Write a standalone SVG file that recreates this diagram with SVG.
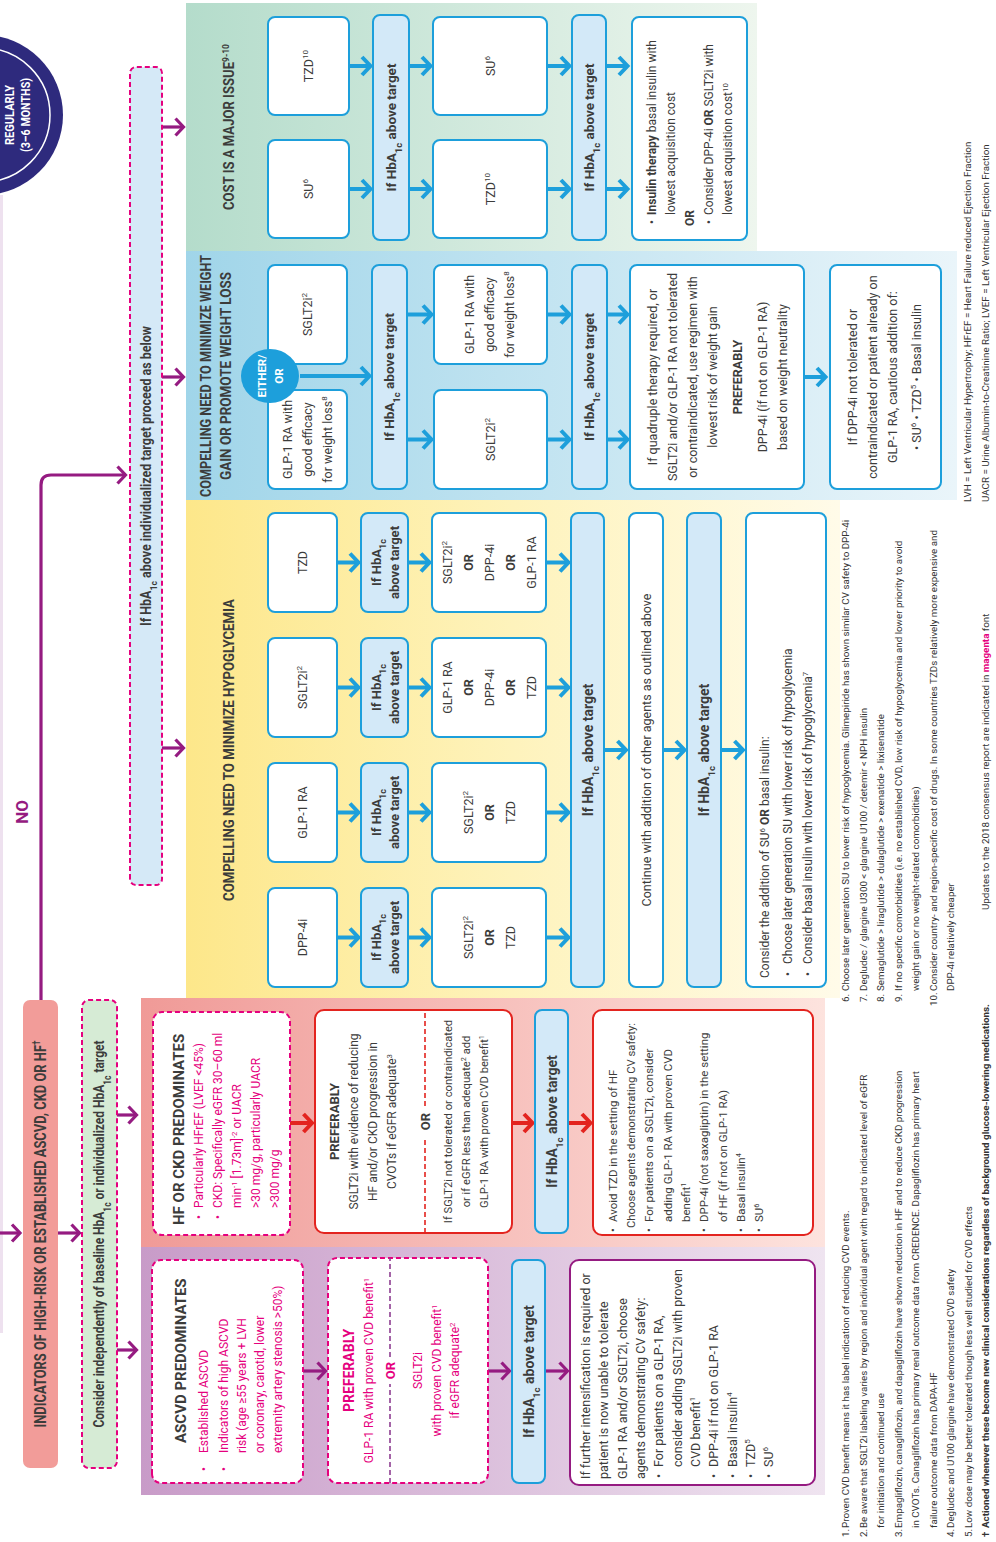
<svg xmlns="http://www.w3.org/2000/svg" width="996" height="1542" viewBox="0 0 996 1542">
<style>
text{font-family:Roboto,"Liberation Sans",Arial,sans-serif;fill:#3c3c3b}
.t{font-size:12px}
.t11{font-size:11.5px}
.t13{font-size:12.5px}
.c{text-anchor:middle}
.b{font-weight:700}
.m{fill:#e5007e}
.w{fill:#fff}
.sp{font-size:65%;baseline-shift:super}
.sb{font-size:70%;baseline-shift:sub}
.fn{font-size:9.8px;fill:#333}
.wb{fill:#fff;stroke:#1d9fdb;stroke-width:2}
.lb{fill:#d3e9f8;stroke:#1d9fdb;stroke-width:2}
.md{fill:#fff;stroke:#e5007e;stroke-width:2;stroke-dasharray:5 3}
.rb{fill:#fff;stroke:#e3241f;stroke-width:2}
.pb{fill:#fff;stroke:#951b81;stroke-width:2}
.ab{fill:none;stroke:#1d9fdb;stroke-width:4;marker-end:url(#mb)}
.ap{fill:none;stroke:#951b81;stroke-width:3.2;marker-end:url(#mp)}
.ar{fill:none;stroke:#e3241f;stroke-width:4;marker-end:url(#mr)}
</style>
<defs>
<linearGradient id="gC" x1="0" y1="0" x2="0" y2="1"><stop offset="0" stop-color="#b4dccb"/><stop offset="1" stop-color="#eef6ee"/></linearGradient>
<linearGradient id="gW" x1="0" y1="0" x2="0" y2="1"><stop offset="0" stop-color="#a0d5e9"/><stop offset="1" stop-color="#eaf5fa"/></linearGradient>
<linearGradient id="gH" x1="0" y1="0" x2="0" y2="1"><stop offset="0" stop-color="#fde78a"/><stop offset="0.5" stop-color="#fef3bc"/><stop offset="1" stop-color="#fffbe9"/></linearGradient>
<linearGradient id="gF" x1="0" y1="0" x2="0" y2="1"><stop offset="0" stop-color="#f09a97"/><stop offset="1" stop-color="#fde3de"/></linearGradient>
<linearGradient id="gA" x1="0" y1="0" x2="0" y2="1"><stop offset="0" stop-color="#c89bc8"/><stop offset="1" stop-color="#efe4f0"/></linearGradient>
<marker id="mb" viewBox="-12 -11 16 22" markerWidth="16" markerHeight="22" refX="0" refY="0" orient="auto" markerUnits="userSpaceOnUse"><path d="M-8.5,-9 L0,0 L-8.5,9" fill="none" stroke="#1d9fdb" stroke-width="4"/></marker>
<marker id="mr" viewBox="-12 -11 16 22" markerWidth="16" markerHeight="22" refX="0" refY="0" orient="auto" markerUnits="userSpaceOnUse"><path d="M-8.5,-9 L0,0 L-8.5,9" fill="none" stroke="#e3241f" stroke-width="4"/></marker>
<marker id="mp" viewBox="-12 -11 16 22" markerWidth="16" markerHeight="22" refX="0" refY="0" orient="auto" markerUnits="userSpaceOnUse"><path d="M-8,-8.5 L0,0 L-8,8.5" fill="none" stroke="#951b81" stroke-width="3.2"/></marker>
</defs>
<rect width="996" height="1542" fill="#fff"/>
<g transform="translate(0,1542) rotate(-90)">

<g id="regions">
<rect x="1291" y="186" width="248" height="571" fill="url(#gC)"/>
<rect x="1042" y="186" width="249" height="771" fill="url(#gW)"/>
<rect x="544" y="186" width="498" height="654" fill="url(#gH)"/>
<rect x="295" y="141" width="249" height="684" fill="url(#gF)"/>
<rect x="47" y="141" width="248" height="684" fill="url(#gA)"/>
<text class="b" x="1415" y="234" text-anchor="middle" font-size="14" textLength="166" lengthAdjust="spacingAndGlyphs">COST IS A MAJOR ISSUE<tspan class="sp">9-10</tspan></text>
<text class="b" x="1166" y="211" text-anchor="middle" font-size="14" textLength="242" lengthAdjust="spacingAndGlyphs">COMPELLING NEED TO MINIMIZE WEIGHT</text>
<text class="b" x="1166" y="231" text-anchor="middle" font-size="14" textLength="208" lengthAdjust="spacingAndGlyphs">GAIN OR PROMOTE WEIGHT LOSS</text>
<text class="b" x="792" y="234" text-anchor="middle" font-size="14" textLength="302" lengthAdjust="spacingAndGlyphs">COMPELLING NEED TO MINIMIZE HYPOGLYCEMIA</text>
</g>

<g id="connectors">
<line x1="209" y1="1.5" x2="1347" y2="1.5" stroke="#eee1ef" stroke-width="3"/>
<path class="ap" d="M309,0 L309,20"/>
<path class="ap" d="M309,58 L309,79.5"/>
<path class="ap" d="M427,117 L427,136.5"/>
<path class="ap" d="M192,117 L192,136.5"/>
<path class="ap" d="M542,41 L1057,41 Q1067,41 1067,51 L1067,125.5"/>
<path class="ap" d="M1415,162 L1415,183.5"/>
<path class="ap" d="M1165,162 L1165,183.5"/>
<path class="ap" d="M794,162 L794,183.5"/>
<path class="ab" d="M1476,349 L1476,370.5"/><path class="ab" d="M1476,409 L1476,430.5"/><path class="ab" d="M1476,547 L1476,569.5"/><path class="ab" d="M1476,606 L1476,627.5"/>
<path class="ab" d="M1353,349 L1353,370.5"/><path class="ab" d="M1353,409 L1353,430.5"/><path class="ab" d="M1353,547 L1353,569.5"/><path class="ab" d="M1353,606 L1353,627.5"/>
<path class="ab" d="M1166,300 L1166,369.5"/>
<path class="ab" d="M1227.5,407 L1227.5,431.5"/><path class="ab" d="M1102.5,407 L1102.5,431.5"/>
<path class="ab" d="M1227.5,547 L1227.5,569.5"/><path class="ab" d="M1102.5,547 L1102.5,569.5"/>
<path class="ab" d="M1227.5,607 L1227.5,627.5"/><path class="ab" d="M1102.5,607 L1102.5,627.5"/>
<path class="ab" d="M1165,804 L1165,825.5"/>
<path class="ab" d="M979.5,337 L979.5,358.5"/><path class="ab" d="M979.5,408 L979.5,429.5"/><path class="ab" d="M979.5,546 L979.5,568.5"/>
<path class="ab" d="M854.5,337 L854.5,358.5"/><path class="ab" d="M854.5,408 L854.5,429.5"/><path class="ab" d="M854.5,546 L854.5,568.5"/>
<path class="ab" d="M729.5,337 L729.5,358.5"/><path class="ab" d="M729.5,408 L729.5,429.5"/><path class="ab" d="M729.5,546 L729.5,568.5"/>
<path class="ab" d="M604.5,337 L604.5,358.5"/><path class="ab" d="M604.5,408 L604.5,429.5"/><path class="ab" d="M604.5,546 L604.5,568.5"/>
<path class="ab" d="M792,604 L792,626"/><path class="ab" d="M792,663 L792,684.5"/><path class="ab" d="M792,721 L792,743"/>
<path class="ar" d="M419,290 L419,312"/><path class="ar" d="M419,512 L419,532.5"/><path class="ar" d="M419,568 L419,590.5"/>
<path class="ap" d="M171,303 L171,325.5"/><path class="ap" d="M171,488 L171,509.5"/><path class="ap" d="M171,545 L171,567.5"/>
</g>

<g id="loop">
<circle cx="1427" cy="-17" r="80" fill="#2e2a7d"/>
<circle cx="1427" cy="-17" r="67" fill="none" stroke="#fff" stroke-width="1.5"/>
<text class="b w" x="1427" y="14" text-anchor="middle" font-size="12.5" textLength="60" lengthAdjust="spacingAndGlyphs">REGULARLY</text>
<text class="b w" x="1427" y="30" text-anchor="middle" font-size="12.5" textLength="74" lengthAdjust="spacingAndGlyphs">(3–6 MONTHS)</text>
</g>

<g id="indicators">
<rect x="74" y="23" width="468" height="35" rx="7" fill="#f29c99"/>
<text class="b" x="308" y="46" text-anchor="middle" font-size="16" textLength="387" lengthAdjust="spacingAndGlyphs">INDICATORS OF HIGH-RISK OR ESTABLISHED ASCVD, CKD OR HF<tspan class="sp">†</tspan></text>
</g>
<g id="consider">
<rect x="74" y="82" width="468" height="35" rx="7" fill="#d6ebd5" stroke="#e5007e" stroke-width="2" stroke-dasharray="5 3"/>
<text class="b" x="308" y="104" text-anchor="middle" font-size="15" textLength="387" lengthAdjust="spacingAndGlyphs">Consider independently of baseline HbA<tspan class="sb">1c</tspan> or individualized HbA<tspan class="sb">1c</tspan> target</text>
</g>
<g id="no">
<text class="b" x="730" y="28" text-anchor="middle" font-size="17" style="fill:#951b81">NO</text>
</g>
<g id="proceed">
<rect x="657" y="130" width="818" height="32" rx="6" fill="#d5e9f7" stroke="#e5007e" stroke-width="2" stroke-dasharray="5 3"/>
<text class="b" x="1066" y="151" text-anchor="middle" font-size="14" textLength="300" lengthAdjust="spacingAndGlyphs">If HbA<tspan class="sb">1c</tspan> above individualized target proceed as below</text>
</g>

<g id="cost-tzd1"><rect class="wb" x="1427" y="268" width="98" height="81" rx="7"/><text class="t13 c" x="1476" y="313">TZD<tspan class="sp">10</tspan></text></g>
<g id="cost-su1"><rect class="wb" x="1304" y="268" width="98" height="81" rx="7"/><text class="t13 c" x="1353" y="313">SU<tspan class="sp">6</tspan></text></g>
<g id="cost-hb1"><rect class="lb" x="1302" y="373" width="225" height="36" rx="7"/><text class="b c" font-size="13.5" x="1414.5" y="396">If HbA<tspan class="sb">1c</tspan> above target</text></g>
<g id="cost-su2"><rect class="wb" x="1427" y="433" width="98" height="114" rx="7"/><text class="t13 c" x="1476" y="495">SU<tspan class="sp">6</tspan></text></g>
<g id="cost-tzd2"><rect class="wb" x="1304" y="433" width="98" height="114" rx="7"/><text class="t13 c" x="1353" y="495">TZD<tspan class="sp">10</tspan></text></g>
<g id="cost-hb2"><rect class="lb" x="1302" y="572" width="225" height="34" rx="7"/><text class="b c" font-size="13.5" x="1414.5" y="594">If HbA<tspan class="sb">1c</tspan> above target</text></g>
<g id="cost-final"><rect class="wb" x="1302" y="632" width="223" height="115" rx="7"/>
<text class="t" x="1318" y="656">•</text><text class="t" x="1327" y="656"><tspan class="b">Insulin therapy</tspan> basal insulin with</text>
<text class="t" x="1327" y="675">lowest acquisition cost</text>
<text class="t b" x="1316" y="694">OR</text>
<text class="t" x="1318" y="713">•</text><text class="t" x="1327" y="713">Consider DPP-4i <tspan class="b">OR</tspan> SGLT2i with</text>
<text class="t" x="1327" y="732">lowest acquisition cost<tspan class="sp">10</tspan></text>
</g>

<g id="w-sglt1"><rect class="wb" x="1178" y="268" width="99" height="79" rx="7"/><text class="t13 c" x="1227.5" y="312">SGLT2i<tspan class="sp">2</tspan></text></g>
<g id="w-glp1"><rect class="wb" x="1053" y="268" width="99" height="79" rx="7"/>
<text class="t13 c" x="1102.5" y="292">GLP-1 RA with</text><text class="t13 c" x="1102.5" y="312">good efficacy</text><text class="t13 c" x="1102.5" y="332">for weight loss<tspan class="sp">8</tspan></text></g>
<g id="w-either"><ellipse cx="1166" cy="270" rx="27" ry="29" fill="#1d9fdb"/>
<text class="b w c" font-size="11.5" x="1166" y="266">EITHER/</text><text class="b w c" font-size="11.5" x="1166" y="283">OR</text></g>
<g id="w-hb1"><rect class="lb" x="1053" y="372" width="224" height="35" rx="7"/><text class="b c" font-size="13.5" x="1165" y="394">If HbA<tspan class="sb">1c</tspan> above target</text></g>
<g id="w-glp2"><rect class="wb" x="1178" y="434" width="99" height="113" rx="7"/>
<text class="t13 c" x="1227.5" y="474">GLP-1 RA with</text><text class="t13 c" x="1227.5" y="494">good efficacy</text><text class="t13 c" x="1227.5" y="514">for weight loss<tspan class="sp">8</tspan></text></g>
<g id="w-sglt2"><rect class="wb" x="1053" y="434" width="99" height="113" rx="7"/><text class="t13 c" x="1102.5" y="495">SGLT2i<tspan class="sp">2</tspan></text></g>
<g id="w-hb2"><rect class="lb" x="1053" y="572" width="224" height="35" rx="7"/><text class="b c" font-size="13.5" x="1165" y="594">If HbA<tspan class="sb">1c</tspan> above target</text></g>
<g id="w-quad"><rect class="wb" x="1053" y="630" width="224" height="174" rx="7"/>
<text class="t13 c" x="1165" y="657">If quadruple therapy required, or</text>
<text class="t13 c" x="1165" y="677">SGLT2i and/or GLP-1 RA not tolerated</text>
<text class="t13 c" x="1165" y="697">or contraindicated, use regimen with</text>
<text class="t13 c" x="1165" y="717">lowest risk of weight gain</text>
<text class="t13 c b" x="1165" y="742">PREFERABLY</text>
<text class="t13 c" x="1165" y="767">DPP-4i (if not on GLP-1 RA)</text>
<text class="t13 c" x="1165" y="787">based on weight neutrality</text>
</g>
<g id="w-dpp"><rect class="wb" x="1053" y="830" width="224" height="111" rx="7"/>
<text class="t13 c" x="1165" y="857">If DPP-4i not tolerated or</text>
<text class="t13 c" x="1165" y="877">contraindicated or patient already on</text>
<text class="t13 c" x="1165" y="897">GLP-1 RA, cautious addition of:</text>
<text class="t13 c" x="1165" y="921">•  SU<tspan class="sp">6</tspan>  •  TZD<tspan class="sp">5</tspan>  •  Basal insulin</text>
</g>

<g id="h-c1">
<rect class="wb" x="930" y="268" width="99" height="69" rx="7"/><text class="t13 c" x="979.5" y="307">TZD</text>
<rect class="lb" x="930" y="361" width="99" height="47" rx="7"/><text class="b c" font-size="13" x="979.5" y="381">If HbA<tspan class="sb">1c</tspan></text><text class="b c" font-size="13" x="979.5" y="399">above target</text>
<rect class="wb" x="930" y="432" width="99" height="114" rx="7"/>
<text class="t13 c" x="979.5" y="452">SGLT2i<tspan class="sp">2</tspan></text><text class="t13 c b" x="979.5" y="473">OR</text><text class="t13 c" x="979.5" y="494">DPP-4i</text><text class="t13 c b" x="979.5" y="515">OR</text><text class="t13 c" x="979.5" y="536">GLP-1 RA</text>
</g>
<g id="h-c2">
<rect class="wb" x="805" y="268" width="99" height="69" rx="7"/><text class="t13 c" x="854.5" y="307">SGLT2i<tspan class="sp">2</tspan></text>
<rect class="lb" x="805" y="361" width="99" height="47" rx="7"/><text class="b c" font-size="13" x="854.5" y="381">If HbA<tspan class="sb">1c</tspan></text><text class="b c" font-size="13" x="854.5" y="399">above target</text>
<rect class="wb" x="805" y="432" width="99" height="114" rx="7"/>
<text class="t13 c" x="854.5" y="452">GLP-1 RA</text><text class="t13 c b" x="854.5" y="473">OR</text><text class="t13 c" x="854.5" y="494">DPP-4i</text><text class="t13 c b" x="854.5" y="515">OR</text><text class="t13 c" x="854.5" y="536">TZD</text>
</g>
<g id="h-c3">
<rect class="wb" x="680" y="268" width="99" height="69" rx="7"/><text class="t13 c" x="729.5" y="307">GLP-1 RA</text>
<rect class="lb" x="680" y="361" width="99" height="47" rx="7"/><text class="b c" font-size="13" x="729.5" y="381">If HbA<tspan class="sb">1c</tspan></text><text class="b c" font-size="13" x="729.5" y="399">above target</text>
<rect class="wb" x="680" y="432" width="99" height="114" rx="7"/>
<text class="t13 c" x="729.5" y="473">SGLT2i<tspan class="sp">2</tspan></text><text class="t13 c b" x="729.5" y="494">OR</text><text class="t13 c" x="729.5" y="515">TZD</text>
</g>
<g id="h-c4">
<rect class="wb" x="555" y="268" width="99" height="69" rx="7"/><text class="t13 c" x="604.5" y="307">DPP-4i</text>
<rect class="lb" x="555" y="361" width="99" height="47" rx="7"/><text class="b c" font-size="13" x="604.5" y="381">If HbA<tspan class="sb">1c</tspan></text><text class="b c" font-size="13" x="604.5" y="399">above target</text>
<rect class="wb" x="555" y="432" width="99" height="114" rx="7"/>
<text class="t13 c" x="604.5" y="473">SGLT2i<tspan class="sp">2</tspan></text><text class="t13 c b" x="604.5" y="494">OR</text><text class="t13 c" x="604.5" y="515">TZD</text>
</g>
<g id="h-hb"><rect class="lb" x="555" y="571" width="474" height="33" rx="7"/><text class="b c" font-size="14" x="792" y="593">If HbA<tspan class="sb">1c</tspan> above target</text></g>
<g id="h-cont"><rect class="wb" x="555" y="629" width="474" height="34" rx="7"/><text class="c" font-size="12.5" x="792" y="651">Continue with addition of other agents as outlined above</text></g>
<g id="h-hb2"><rect class="lb" x="555" y="687" width="474" height="34" rx="7"/><text class="b c" font-size="14" x="792" y="709">If HbA<tspan class="sb">1c</tspan> above target</text></g>
<g id="h-su"><rect class="wb" x="555" y="746" width="474" height="80" rx="7"/>
<text class="t" x="564" y="769">Consider the addition of SU<tspan class="sp">6</tspan> <tspan class="b">OR</tspan> basal insulin:</text>
<text class="t" x="566" y="792">•</text><text class="t" x="578" y="792">Choose later generation SU with lower risk of hypoglycemia</text>
<text class="t" x="566" y="812">•</text><text class="t" x="578" y="812">Consider basal insulin with lower risk of hypoglycemia<tspan class="sp">7</tspan></text>
</g>

<g id="hf-box"><rect class="md" x="307" y="153" width="223" height="137" rx="9"/>
<text class="b" font-size="15" x="317" y="184">HF OR CKD PREDOMINATES</text>
<text class="t m" x="323" y="203">•</text><text class="t m" x="334" y="203">Particularly HFrEF (LVEF &lt;45%)</text>
<text class="t m" x="323" y="222">•</text><text class="t m" x="334" y="222">CKD: Specifically eGFR 30–60 ml</text>
<text class="t m" x="334" y="241">min<tspan class="sp">-1</tspan> [1.73m]<tspan class="sp">-2</tspan> or UACR</text>
<text class="t m" x="334" y="260">&gt;30 mg/g, particularly UACR</text>
<text class="t m" x="334" y="279">&gt;300 mg/g</text>
</g>
<g id="hf-pref"><rect class="rb" x="309" y="315" width="223" height="197" rx="9"/>
<line x1="309" y1="425" x2="405" y2="425" stroke="#e3241f" stroke-width="1.6" stroke-dasharray="5 3"/>
<line x1="436" y1="425" x2="532" y2="425" stroke="#e3241f" stroke-width="1.6" stroke-dasharray="5 3"/>
<text class="b c" font-size="13" x="420.5" y="339">PREFERABLY</text>
<text class="t c" x="420.5" y="358">SGLT2i with evidence of reducing</text>
<text class="t c" x="420.5" y="377">HF and/or CKD progression in</text>
<text class="t c" x="420.5" y="396">CVOTs if eGFR adequate<tspan class="sp">3</tspan></text>
<text class="b c" font-size="13" x="420.5" y="430">OR</text>
<text class="c" font-size="11.2" x="420.5" y="452">If SGLT2i not tolerated or contraindicated</text>
<text class="c" font-size="11.2" x="420.5" y="470">or if eGFR less than adequate<tspan class="sp">2</tspan> add</text>
<text class="c" font-size="11.2" x="420.5" y="488">GLP-1 RA with proven CVD benefit<tspan class="sp">1</tspan></text>
</g>
<g id="hf-hb"><rect class="lb" x="309" y="535" width="223" height="33" rx="7"/><text class="b c" font-size="14" x="420.5" y="557">If HbA<tspan class="sb">1c</tspan> above target</text></g>
<g id="hf-next"><rect class="rb" x="307" y="593" width="225" height="220" rx="9"/>
<text class="t11" x="310" y="617">•</text><text class="t11" x="320" y="617">Avoid TZD in the setting of HF</text>
<text class="t11" x="314" y="635" textLength="205" lengthAdjust="spacingAndGlyphs">Choose agents demonstrating CV safety:</text>
<text class="t11" x="310" y="653">•</text><text class="t11" x="320" y="653">For patients on a SGLT2i, consider</text>
<text class="t11" x="320" y="672">adding GLP-1 RA with proven CVD</text>
<text class="t11" x="320" y="690">benefit<tspan class="sp">1</tspan></text>
<text class="t11" x="310" y="708">•</text><text class="t11" x="320" y="708">DPP-4i (not saxagliptin) in the setting</text>
<text class="t11" x="320" y="727">of HF (if not on GLP-1 RA)</text>
<text class="t11" x="310" y="745">•</text><text class="t11" x="320" y="745">Basal insulin<tspan class="sp">4</tspan></text>
<text class="t11" x="310" y="763">•</text><text class="t11" x="320" y="763">SU<tspan class="sp">6</tspan></text>
</g>

<g id="as-box"><rect class="md" x="59" y="152" width="223" height="151" rx="9"/>
<text class="b" font-size="15" x="99" y="186">ASCVD PREDOMINATES</text>
<text class="t m" x="71" y="208">•</text><text class="t m" x="89" y="208">Established ASCVD</text>
<text class="t m" x="71" y="228">•</text><text class="t m" x="89" y="228">Indicators of high ASCVD</text>
<text class="t m" x="89" y="246">risk (age ≥55 years + LVH</text>
<text class="t m" x="89" y="264">or coronary, carotid, lower</text>
<text class="t m" x="89" y="282">extremity artery stenosis &gt;50%)</text>
</g>
<g id="as-pref"><rect class="md" x="59" y="328" width="225" height="160" rx="9"/>
<line x1="59" y1="390" x2="158" y2="390" stroke="#8e3d91" stroke-width="1.6" stroke-dasharray="5 3"/>
<line x1="185" y1="390" x2="284" y2="390" stroke="#8e3d91" stroke-width="1.6" stroke-dasharray="5 3"/>
<text class="b c m" font-size="14" x="171.5" y="354">PREFERABLY</text>
<text class="t c m" x="171.5" y="373">GLP-1 RA with proven CVD benefit<tspan class="sp">1</tspan></text>
<text class="b c m" font-size="13" x="171.5" y="395">OR</text>
<text class="t c m" x="171.5" y="422">SGLT2i</text>
<text class="t c m" x="171.5" y="441">with proven CVD benefit<tspan class="sp">1</tspan></text>
<text class="t c m" x="171.5" y="459">if eGFR adequate<tspan class="sp">2</tspan></text>
</g>
<g id="as-hb"><rect class="lb" x="59" y="512" width="223" height="33" rx="7"/><text class="b c" font-size="14" x="170.5" y="534">If HbA<tspan class="sb">1c</tspan> above target</text></g>
<g id="as-next"><rect class="pb" x="57" y="570" width="225" height="245" rx="9"/>
<text class="t13" x="63" y="590">If further intensification is required or</text>
<text class="t13" x="63" y="608">patient is now unable to tolerate</text>
<text class="t13" x="63" y="627">GLP-1 RA and/or SGLT2i, choose</text>
<text class="t13" x="63" y="645">agents demonstrating CV safety:</text>
<text class="t13" x="64" y="663">•</text><text class="t13" x="75" y="663">For patients on a GLP-1 RA,</text>
<text class="t13" x="75" y="682">consider adding SGLT2i with proven</text>
<text class="t13" x="75" y="700">CVD benefit<tspan class="sp">1</tspan></text>
<text class="t13" x="64" y="718">•</text><text class="t13" x="75" y="718">DPP-4i if not on GLP-1 RA</text>
<text class="t13" x="64" y="737">•</text><text class="t13" x="75" y="737">Basal insulin<tspan class="sp">4</tspan></text>
<text class="t13" x="64" y="755">•</text><text class="t13" x="75" y="755">TZD<tspan class="sp">5</tspan></text>
<text class="t13" x="64" y="773">•</text><text class="t13" x="75" y="773">SU<tspan class="sp">6</tspan></text>
</g>

<g id="footnotes">
<text class="fn" x="5" y="849">1.</text><text class="fn" x="14" y="849">Proven CVD benefit means it has label indication of reducing CVD events.</text>
<text class="fn" x="5" y="866.5">2.</text><text class="fn" x="14" y="866.5">Be aware that SGLT2i labeling varies by region and individual agent with regard to indicated level of eGFR</text>
<text class="fn" x="14" y="884">for initiation and continued use</text>
<text class="fn" x="5" y="901.5">3.</text><text class="fn" x="14" y="901.5">Empagliflozin, canagliflozin, and dapagliflozin have shown reduction in HF and to reduce CKD progression</text>
<text class="fn" x="14" y="919">in CVOTs. Canagliflozin has primary renal outcome data from CREDENCE. Dapagliflozin has primary heart</text>
<text class="fn" x="14" y="936.5">failure outcome data from DAPA-HF</text>
<text class="fn" x="5" y="954">4.</text><text class="fn" x="14" y="954">Degludec and U100 glargine have demonstrated CVD safety</text>
<text class="fn" x="5" y="971.5">5.</text><text class="fn" x="14" y="971.5">Low dose may be better tolerated though less well studied for CVD effects</text>
<text class="fn b" x="5" y="989">†</text><text class="fn b" x="14" y="989">Actioned whenever these become new clinical considerations regardless of background glucose-lowering medications.</text>
<text class="fn" x="540" y="849">6.</text><text class="fn" x="551" y="849">Choose later generation SU to lower risk of hypoglycemia. Glimepiride has shown similar CV safety to DPP-4i</text>
<text class="fn" x="540" y="866.5">7.</text><text class="fn" x="551" y="866.5">Degludec / glargine U300 &lt; glargine U100 / detemir &lt; NPH insulin</text>
<text class="fn" x="540" y="884">8.</text><text class="fn" x="551" y="884">Semaglutide &gt; liraglutide &gt; dulaglutide &gt; exenatide &gt; lixisenatide</text>
<text class="fn" x="540" y="901.5">9.</text><text class="fn" x="551" y="901.5">If no specific comorbidities (i.e. no established CVD, low risk of hypoglycemia and lower priority to avoid</text>
<text class="fn" x="551" y="919">weight gain or no weight-related comorbidities)</text>
<text class="fn" x="536" y="936.5">10.</text><text class="fn" x="551" y="936.5">Consider country- and region-specific cost of drugs. In some countries TZDs relatively more expensive and</text>
<text class="fn" x="551" y="954">DPP-4i relatively cheaper</text>
<text class="fn" x="632" y="989">Updates to the 2018 consensus report are indicated in <tspan class="b m">magenta</tspan> font</text>
<text class="fn" x="1040" y="971">LVH = Left Ventricular Hypertrophy; HFrEF = Heart Failure reduced Ejection Fraction</text>
<text class="fn" x="1040" y="989">UACR = Urine Albumin-to-Creatinine Ratio; LVEF = Left Ventricular Ejection Fraction</text>
</g>
</g>
</svg>
